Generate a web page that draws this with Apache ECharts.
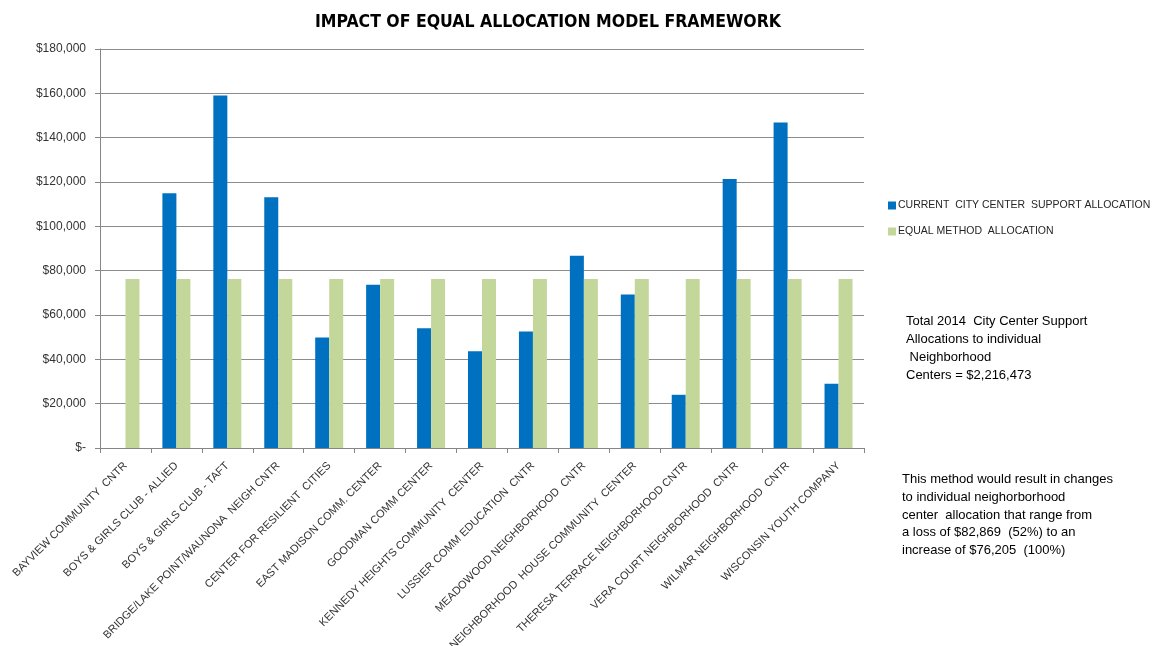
<!DOCTYPE html>
<html>
<head>
<meta charset="utf-8">
<script src="https://cdn.jsdelivr.net/npm/echarts@6/dist/echarts.min.js"></script>
<style>
html,body{margin:0;padding:0;background:#fff;}
#chart{width:1154px;height:646px;}
</style>
</head>
<body>
<div id="chart"></div>
<script>
const categories = [
  'BAYVIEW COMMUNITY  CNTR',
  'BOYS & GIRLS CLUB - ALLIED',
  'BOYS & GIRLS CLUB - TAFT',
  'BRIDGE/LAKE POINT/WAUNONA  NEIGH CNTR',
  'CENTER FOR RESILIENT  CITIES',
  'EAST MADISON COMM. CENTER',
  'GOODMAN COMM CENTER',
  'KENNEDY HEIGHTS COMMUNITY  CENTER',
  'LUSSIER COMM EDUCATION  CNTR',
  'MEADOWOOD NEIGHBORHOOD  CNTR',
  'NEIGHBORHOOD  HOUSE COMMUNITY  CENTER',
  'THERESA TERRACE NEIGHBORHOOD CNTR',
  'VERA COURT NEIGHBORHOOD  CNTR',
  'WILMAR NEIGHBORHOOD  CNTR',
  'WISCONSIN YOUTH COMPANY'
];
const currentAllocation = [0, 114900, 159074, 113100, 49800, 73700, 54000, 43700, 52600, 86700, 69200, 24000, 121300, 146800, 29000];
const equalAllocation = [76205, 76205, 76205, 76205, 76205, 76205, 76205, 76205, 76205, 76205, 76205, 76205, 76205, 76205, 76205];
const yTicks = { min: 0, max: 180000, interval: 20000 };
const seriesNames = ['CURRENT  CITY CENTER  SUPPORT ALLOCATION', 'EQUAL METHOD  ALLOCATION'];
const titleText = 'IMPACT OF EQUAL ALLOCATION MODEL FRAMEWORK';
const note1 = 'Total 2014  City Center Support\nAllocations to individual\n Neighborhood\nCenters = $2,216,473';
const note2 = 'This method would result in changes\nto individual neighorborhood\ncenter  allocation that range from\na loss of $82,869  (52%) to an\nincrease of $76,205  (100%)';

const chart = echarts.init(document.getElementById('chart'));
const txtFont = '"Liberation Sans", Arial, sans-serif';
chart.setOption({
  animation: false,
  backgroundColor: '#ffffff',
  title: {
    text: titleText,
    left: 543, top: 8, textAlign: 'center',
    textStyle: { fontFamily: '"Liberation Sans Narrow", "DejaVu Sans Condensed", "Liberation Sans", sans-serif', fontWeight: 'bold', fontSize: 17.5, color: '#000' }
  },
  legend: {
    orient: 'vertical', left: 883, top: 195, itemWidth: 8, itemHeight: 8, itemGap: 15, icon: 'rect',
    textStyle: { fontFamily: txtFont, fontSize: 10.5, color: '#262626', padding: [0,0,0,-3] },
    data: seriesNames
  },
  grid: { left: 100, right: 290, top: 49, bottom: 198, containLabel: false, outerBoundsMode: 'none' },
  xAxis: {
    type: 'category', data: categories,
    axisLine: { lineStyle: { color: '#868686', width: 1 } },
    axisTick: { show: true, alignWithLabel: false, length: 5, lineStyle: { color: '#868686' } },
    axisLabel: { rotate: 45, interval: 0, fontFamily: txtFont, fontSize: 11, color: '#333', margin: 16 }
  },
  yAxis: {
    type: 'value', min: yTicks.min, max: yTicks.max, interval: yTicks.interval,
    axisLine: { show: true, lineStyle: { color: '#868686' } },
    axisTick: { show: true, length: 5, lineStyle: { color: '#868686' } },
    splitLine: { lineStyle: { color: '#8c8c8c', width: 1 } },
    axisLabel: {
      fontFamily: txtFont, fontSize: 12, color: '#333', margin: 14,
      formatter: v => v === 0 ? '$-' : '$' + v.toLocaleString('en-US')
    }
  },
  series: [
    { name: seriesNames[0], type: 'bar', data: currentAllocation, barWidth: 14, barGap: '0%', itemStyle: { color: '#0070c0' } },
    { name: seriesNames[1], type: 'bar', data: equalAllocation, barWidth: 14, barGap: '0%', itemStyle: { color: '#c4d79b' } }
  ],
  graphic: [
    { type: 'text', left: 906, top: 313, style: { text: note1, font: '13px ' + txtFont, fill: '#000', lineHeight: 17.7 } },
    { type: 'text', left: 902, top: 471, style: { text: note2, font: '13px ' + txtFont, fill: '#000', lineHeight: 17.6 } }
  ]
});
</script>
</body>
</html>
